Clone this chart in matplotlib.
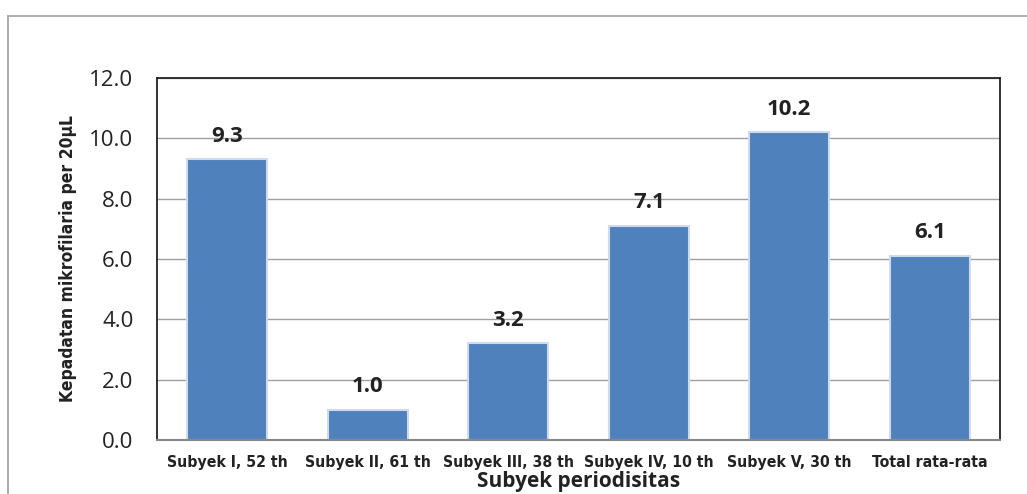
import matplotlib.pyplot as plt
import numpy as np
from matplotlib.lines import Line2D

categories = ["Subyek I, 52 th", "Subyek II, 61 th", "Subyek III, 38 th",
              "Subyek IV, 10 th", "Subyek V, 30 th", "Total rata-rata"]
values = [9.3, 1.0, 3.2, 7.1, 10.2, 6.1]
yticks = [0, 2, 4, 6, 8, 10, 12]

regular = ["Open Sans", "DejaVu Sans"]

fig = plt.figure(figsize=(10.27, 4.94), dpi=100)
ax = fig.add_axes([157 / 1027, 1 - 440 / 494, (1000 - 157) / 1027, (440 - 78) / 494])

x = np.arange(len(categories))
ax.bar(x, values, width=0.57, color="#4F81BD", edgecolor="#D0DAE8", linewidth=1.5, zorder=3)

for xi, v in zip(x, values):
    ax.text(xi, v + 0.42, f"{v:.1f}", ha="center", va="bottom", fontsize=16,
            fontweight="bold", family=regular, color="#222222")

ax.set_xlim(-0.5, len(categories) - 0.5)
ax.set_ylim(0, 12)
ax.set_yticks(yticks)
ax.set_yticklabels([f"{t:.1f}" for t in yticks], family=regular, fontsize=16, color="#222222")
ax.set_xticks(x)
ax.set_xticklabels(categories, family="DejaVu Sans", stretch="condensed", fontsize=11.3,
                   fontweight="bold", color="#222222")
ax.tick_params(axis="y", length=0, pad=17)
ax.tick_params(axis="x", length=0, pad=10.5)
ax.grid(axis="y", color="#A0A0A0", linewidth=1, zorder=0)

for s in ["top", "left", "right"]:
    ax.spines[s].set_color("#222222")
    ax.spines[s].set_linewidth(1.3)
ax.spines["bottom"].set_color("#888888")
ax.spines["bottom"].set_linewidth(1.5)
ax.spines["bottom"].set_zorder(4)

ax.set_ylabel("Kepadatan mikrofilaria per 20µL", family="DejaVu Sans", stretch="condensed",
              fontsize=12.5, fontweight="bold", color="#222222", labelpad=9)
ax.set_xlabel("Subyek periodisitas", family=regular, fontsize=15,
              fontweight="bold", color="#222222", labelpad=1)

# outer chart frame
fig.add_artist(Line2D([8 / 1027, 8 / 1027], [0, 1 - 16 / 494], transform=fig.transFigure,
                      color="#A8A8A8", linewidth=1.3))
fig.add_artist(Line2D([8 / 1027, 1], [1 - 16 / 494, 1 - 16 / 494], transform=fig.transFigure,
                      color="#A8A8A8", linewidth=1.3))

fig.savefig("out.png", dpi=100)
